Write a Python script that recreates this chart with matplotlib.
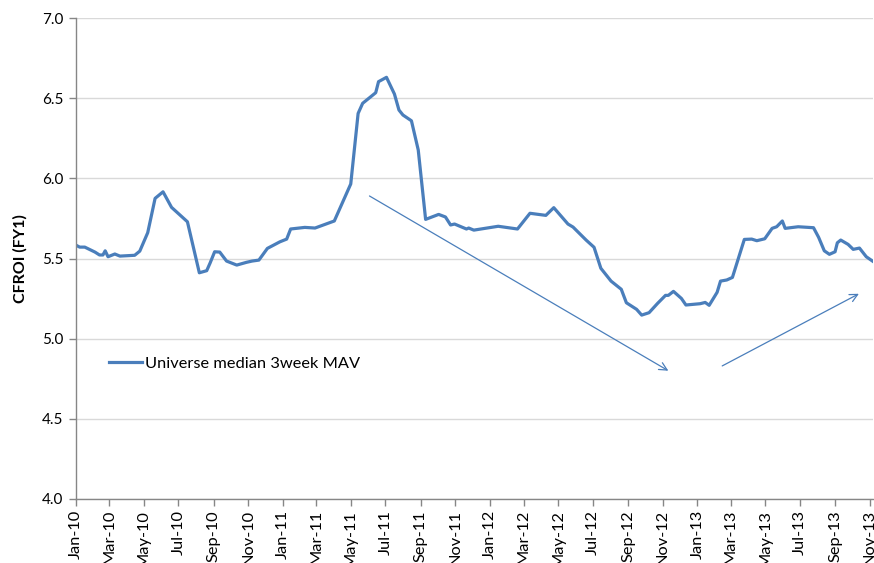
import matplotlib
matplotlib.use("Agg")
import matplotlib.pyplot as plt
import matplotlib.dates as mdates
import pandas as pd

# Data (universe median CFROI, 3-week moving average)
dates = [
    "2010-01-01", "2010-01-08", "2010-01-17", "2010-02-04", "2010-02-12", "2010-02-18",
    "2010-02-22", "2010-02-27", "2010-03-11", "2010-03-20", "2010-04-15", "2010-04-24",
    "2010-05-08", "2010-05-21", "2010-06-04", "2010-06-19", "2010-07-17", "2010-08-07",
    "2010-08-20", "2010-08-26", "2010-09-03", "2010-09-12", "2010-09-24", "2010-10-12",
    "2010-10-29", "2010-11-08", "2010-11-20", "2010-12-05", "2010-12-27", "2011-01-08",
    "2011-01-15", "2011-02-09", "2011-02-27", "2011-04-02", "2011-05-01", "2011-05-14",
    "2011-05-22", "2011-06-14", "2011-06-19", "2011-07-03", "2011-07-17", "2011-07-25",
    "2011-08-01", "2011-08-16", "2011-08-28", "2011-09-10", "2011-10-03", "2011-10-15",
    "2011-10-24", "2011-10-31", "2011-11-21", "2011-11-25", "2011-12-04", "2012-01-16",
    "2012-02-19", "2012-03-12", "2012-04-09", "2012-04-23", "2012-05-18", "2012-05-27",
    "2012-06-19", "2012-07-03", "2012-07-15", "2012-08-02", "2012-08-20", "2012-08-29",
    "2012-09-16", "2012-09-25", "2012-10-08", "2012-10-23", "2012-11-06", "2012-11-11",
    "2012-11-20", "2012-12-04", "2012-12-12", "2013-01-06", "2013-01-15", "2013-01-22",
    "2013-02-05", "2013-02-11", "2013-02-22", "2013-03-04", "2013-03-25", "2013-04-07",
    "2013-04-16", "2013-04-30", "2013-05-13", "2013-05-21", "2013-05-31", "2013-06-05",
    "2013-06-28", "2013-07-16", "2013-07-25", "2013-08-03", "2013-08-13", "2013-08-22",
    "2013-09-01", "2013-09-05", "2013-09-11", "2013-09-24", "2013-10-03", "2013-10-14",
    "2013-10-26", "2013-11-06",
]
cfroi = [
    5.584, 5.571, 5.571, 5.540, 5.522, 5.522,
    5.548, 5.511, 5.528, 5.515, 5.520, 5.546,
    5.661, 5.875, 5.916, 5.819, 5.729, 5.411,
    5.424, 5.472, 5.542, 5.540, 5.484, 5.459,
    5.476, 5.484, 5.490, 5.563, 5.604, 5.621,
    5.684, 5.694, 5.690, 5.734, 5.965, 6.405,
    6.468, 6.534, 6.603, 6.630, 6.526, 6.426,
    6.395, 6.359, 6.177, 5.744, 5.775, 5.759,
    5.709, 5.715, 5.684, 5.690, 5.677, 5.701,
    5.684, 5.782, 5.769, 5.817, 5.715, 5.696,
    5.615, 5.570, 5.439, 5.359, 5.308, 5.224,
    5.183, 5.147, 5.162, 5.220, 5.270, 5.270,
    5.295, 5.251, 5.210, 5.218, 5.226, 5.208,
    5.289, 5.359, 5.366, 5.382, 5.619, 5.621,
    5.611, 5.623, 5.688, 5.698, 5.734, 5.688,
    5.698, 5.694, 5.692, 5.632, 5.548, 5.526,
    5.542, 5.598, 5.615, 5.588, 5.557, 5.565,
    5.511, 5.484,
]
series_label = "Universe median 3week MAV"
y_label = "CFROI (FY1)"

# trend arrows drawn over the chart: (start date, start value, end date, end value)
arrows = [
    ("2011-06-03", 5.89, "2012-11-11", 4.80),
    ("2013-02-14", 4.83, "2013-10-13", 5.28),
]

blue = "#4a7ebb"
grey = "#868686"
plt.rcParams["font.family"] = ["Lato", "DejaVu Sans"]

x = pd.to_datetime(dates)

fig = plt.figure(figsize=(8.74, 5.63), dpi=100)
ax = fig.add_axes([75.7 / 874, 1 - 499 / 563, (872.5 - 75.7) / 874, (499 - 18) / 563])

ax.plot(x, cfroi, color=blue, lw=2.3, label=series_label, solid_joinstyle="round")

for d0, v0, d1, v1 in arrows:
    ax.annotate("", xy=(pd.Timestamp(d1), v1), xytext=(pd.Timestamp(d0), v0),
                arrowprops=dict(arrowstyle="->", color=blue, lw=0.9,
                                shrinkA=0, shrinkB=0, mutation_scale=14))

ax.set_ylim(4.0, 7.0)
ax.set_yticks([4.0, 4.5, 5.0, 5.5, 6.0, 6.5, 7.0])
ax.yaxis.set_major_formatter(plt.FormatStrFormatter("%.1f"))
ax.set_xlim(pd.Timestamp("2010-01-01"), pd.Timestamp("2013-11-06"))
ax.xaxis.set_major_locator(mdates.MonthLocator(bymonth=[1, 3, 5, 7, 9, 11]))
ax.xaxis.set_major_formatter(mdates.DateFormatter("%b-%y"))

ax.grid(axis="y", color="#d9d9d9", lw=1)
ax.set_axisbelow(True)
for side in ["top", "right"]:
    ax.spines[side].set_visible(False)
for side in ["left", "bottom"]:
    ax.spines[side].set_color(grey)
    ax.spines[side].set_linewidth(1)
ax.tick_params(axis="both", colors=grey, length=5, width=1, labelcolor="black", labelsize=11)
ax.tick_params(axis="x", rotation=90, pad=3, labelsize=11.8)
ax.tick_params(axis="y", pad=4)

ax.set_ylabel(y_label, fontsize=11.5, fontweight="bold", labelpad=10)

ax.legend(loc="upper left", bbox_to_anchor=(0.034, 0.31), frameon=False, fontsize=11.8,
          handlelength=2.0, handletextpad=0.2, borderaxespad=0)

fig.savefig("out.png", dpi=100)
